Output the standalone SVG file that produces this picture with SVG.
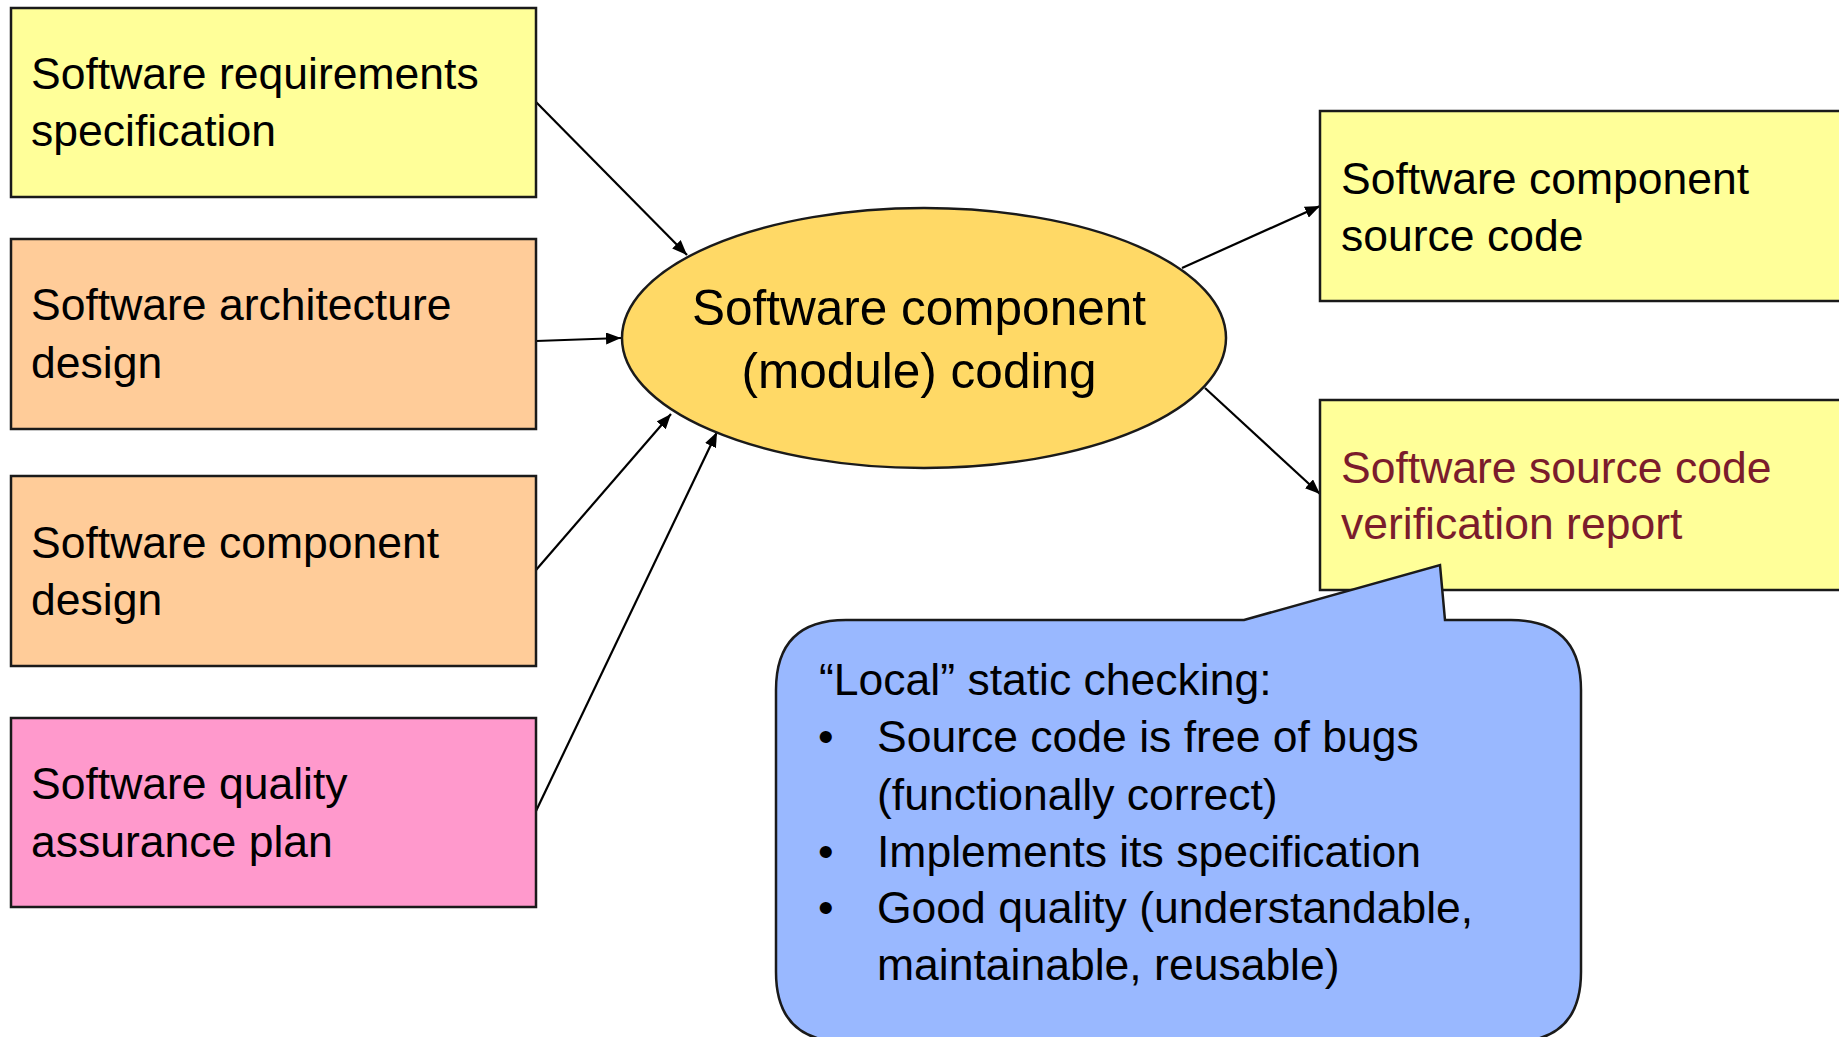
<svg xmlns="http://www.w3.org/2000/svg" width="1839" height="1037" viewBox="0 0 1839 1037">
<defs>
<marker id="arr" markerUnits="userSpaceOnUse" markerWidth="16" markerHeight="12" refX="15" refY="6" orient="auto">
<path d="M0,0 L15,6 L0,12 z" fill="#000"/>
</marker>
<style>
.box{stroke:#1a1a1a;stroke-width:2.5}
.t{font-family:"Liberation Sans",Arial,sans-serif;font-size:44.5px;fill:#000}
.big{font-size:49.5px}
.red{fill:#7B1C2C}
.edge{stroke:#000;stroke-width:2.2;fill:none;marker-end:url(#arr)}
</style>
</defs>
<rect width="1839" height="1037" fill="#fff"/>
<g id="connectors">
<line class="edge" x1="536" y1="102" x2="687" y2="255"/>
<line class="edge" x1="536" y1="341" x2="621" y2="338"/>
<line class="edge" x1="536" y1="570" x2="671" y2="414"/>
<line class="edge" x1="536" y1="811" x2="717" y2="432"/>
<line class="edge" x1="1182" y1="268" x2="1320" y2="206"/>
<line class="edge" x1="1205" y1="388" x2="1320" y2="494"/>
</g>
<g id="n-srs">
<rect class="box" x="11" y="8" width="525" height="189" fill="#FFFF99"/>
<text class="t" x="31" y="89">Software requirements</text>
<text class="t" x="31" y="146">specification</text>
</g>
<g id="n-sad">
<rect class="box" x="11" y="239" width="525" height="190" fill="#FFCC99"/>
<text class="t" x="31" y="320">Software architecture</text>
<text class="t" x="31" y="378">design</text>
</g>
<g id="n-scd">
<rect class="box" x="11" y="476" width="525" height="190" fill="#FFCC99"/>
<text class="t" x="31" y="558">Software component</text>
<text class="t" x="31" y="615">design</text>
</g>
<g id="n-sqap">
<rect class="box" x="11" y="718" width="525" height="189" fill="#FF99CC"/>
<text class="t" x="31" y="799">Software quality</text>
<text class="t" x="31" y="857">assurance plan</text>
</g>
<g id="n-coding">
<ellipse class="box" cx="924" cy="338" rx="302" ry="130" fill="#FFD966"/>
<text class="t big" x="919" y="325" text-anchor="middle">Software component</text>
<text class="t big" x="919" y="388" text-anchor="middle">(module) coding</text>
</g>
<g id="n-src">
<rect class="box" x="1320" y="111" width="530" height="190" fill="#FFFF99"/>
<text class="t" x="1341" y="194">Software component</text>
<text class="t" x="1341" y="251">source code</text>
</g>
<g id="n-report">
<rect class="box" x="1320" y="400" width="530" height="190" fill="#FFFF99"/>
<text class="t red" x="1341" y="483">Software source code</text>
<text class="t red" x="1341" y="539">verification report</text>
</g>
<g id="n-callout">
<path class="box" fill="#99B8FF" d="M846,620 L1244,620 L1440,565 L1445,620 L1511,620 Q1581,620 1581,690 L1581,972 Q1581,1042 1511,1042 L846,1042 Q776,1042 776,972 L776,690 Q776,620 846,620 Z"/>
<text class="t" x="819" y="695">“Local” static checking:</text>
<text class="t" x="818" y="752">•</text>
<text class="t" x="877" y="752">Source code is free of bugs</text>
<text class="t" x="877" y="810">(functionally correct)</text>
<text class="t" x="818" y="867">•</text>
<text class="t" x="877" y="867">Implements its specification</text>
<text class="t" x="818" y="923">•</text>
<text class="t" x="877" y="923">Good quality (understandable,</text>
<text class="t" x="877" y="980">maintainable, reusable)</text>
</g>
</svg>
